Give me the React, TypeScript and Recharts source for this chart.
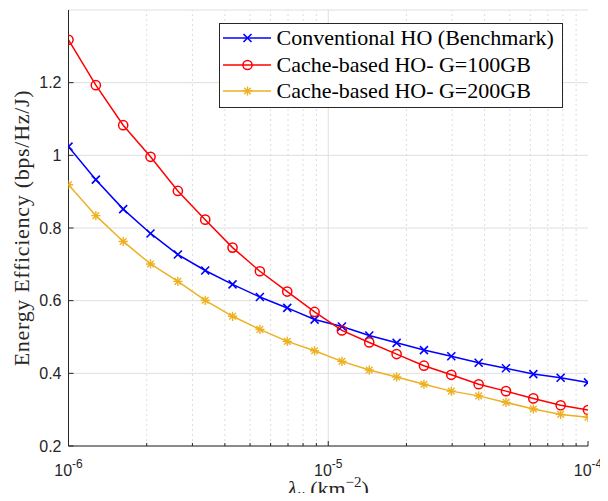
import React from 'react';
import { LineChart, Line, XAxis, YAxis, CartesianGrid, ReferenceLine, Legend } from 'recharts';

const lambdaValues = [1.0e-6, 1.2743e-6, 1.6238e-6, 2.0691e-6, 2.6367e-6, 3.3598e-6, 4.2813e-6, 5.4556e-6, 6.9519e-6, 8.8587e-6, 1.1288e-5, 1.4384e-5, 1.833e-5, 2.3357e-5, 2.9764e-5, 3.7927e-5, 4.8329e-5, 6.1585e-5, 7.8476e-5, 1.0e-4];
const conventional = [1.024, 0.933, 0.852, 0.785, 0.727, 0.683, 0.645, 0.610, 0.580, 0.548, 0.529, 0.504, 0.484, 0.464, 0.447, 0.429, 0.414, 0.398, 0.388, 0.375];
const cache100 = [1.318, 1.193, 1.083, 0.996, 0.902, 0.823, 0.746, 0.681, 0.625, 0.569, 0.518, 0.485, 0.453, 0.421, 0.396, 0.370, 0.351, 0.331, 0.312, 0.299];
const cache200 = [0.919, 0.834, 0.763, 0.701, 0.653, 0.601, 0.557, 0.521, 0.488, 0.462, 0.433, 0.409, 0.390, 0.370, 0.351, 0.338, 0.320, 0.302, 0.287, 0.279];

const seriesNames = ['Conventional HO (Benchmark)', 'Cache-based HO- G=100GB', 'Cache-based HO- G=200GB'];
const seriesKeys = ['conv', 'c100', 'c200'];
const seriesColors = ['#0000FF', '#FF0000', '#EDB120'];
const seriesMarkers = ['x', 'o', '*'];

const xMajorTicks = [1e-6, 1e-5, 1e-4];
const xMajorExp = ['-6', '-5', '-4'];
const xMinorTicks = [2e-6, 3e-6, 4e-6, 5e-6, 6e-6, 7e-6, 8e-6, 9e-6, 2e-5, 3e-5, 4e-5, 5e-5, 6e-5, 7e-5, 8e-5, 9e-5];
const xAllTicks = [...xMajorTicks, ...xMinorTicks].sort((a, b) => a - b);
const yTicks = [0.2, 0.4, 0.6, 0.8, 1.0, 1.2];
const yTickLabels = ['0.2', '0.4', '0.6', '0.8', '1', '1.2'];
const yDomain = [0.2, 1.4];
const xDomain = [1e-6, 1e-4];

const data = lambdaValues.map((x, i) => ({ x, conv: conventional[i], c100: cache100[i], c200: cache200[i] }));

const AXIS = '#262626';
const SERIF = '"Liberation Serif", "Times New Roman", serif';
const SANS = '"Liberation Sans", Arial, Helvetica, sans-serif';

function Marker({ type, cx, cy, color }: { type: string; cx: number; cy: number; color: string }) {
  const s = 4;
  if (type === 'o') return <circle cx={cx} cy={cy} r={4.6} fill="none" stroke={color} strokeWidth={1.5} />;
  if (type === 'x')
    return (
      <g stroke={color} strokeWidth={1.6}>
        <line x1={cx - s} y1={cy - s} x2={cx + s} y2={cy + s} />
        <line x1={cx - s} y1={cy + s} x2={cx + s} y2={cy - s} />
      </g>
    );
  const a = 4.6;
  const d = 3.3;
  return (
    <g stroke={color} strokeWidth={1.4}>
      <line x1={cx - a} y1={cy} x2={cx + a} y2={cy} />
      <line x1={cx} y1={cy - a} x2={cx} y2={cy + a} />
      <line x1={cx - d} y1={cy - d} x2={cx + d} y2={cy + d} />
      <line x1={cx - d} y1={cy + d} x2={cx + d} y2={cy - d} />
    </g>
  );
}

const isMajor = (v: number) => xMajorTicks.some((m) => Math.abs(m - v) / m < 1e-6);

function BottomTick(props: any) {
  const { x, y, payload } = props;
  const v = payload.value;
  const major = isMajor(v);
  const idx = xMajorTicks.findIndex((m) => Math.abs(m - v) / m < 1e-6);
  return (
    <g>
      <line x1={x} y1={y} x2={x} y2={y - (major ? 5 : 3)} stroke={AXIS} strokeWidth={1} />
      {major && (
        <text x={x} y={y + 30} textAnchor="middle" fontFamily={SANS} fontSize={16} fill={AXIS}>
          <tspan>10</tspan>
          <tspan fontSize={12} dy={-8}>{xMajorExp[idx]}</tspan>
        </text>
      )}
    </g>
  );
}

function TopTick(props: any) {
  const { x, y, payload } = props;
  const major = isMajor(payload.value);
  return <line x1={x} y1={y} x2={x} y2={y + (major ? 5 : 3)} stroke={AXIS} strokeWidth={1} />;
}

function LeftTick(props: any) {
  const { x, y, payload, index } = props;
  const i = yTicks.findIndex((t) => Math.abs(t - payload.value) < 1e-9);
  return (
    <g>
      <line x1={x} y1={y} x2={x + 5} y2={y} stroke={AXIS} strokeWidth={1} />
      <text x={x - 7} y={y} dy="0.36em" textAnchor="end" fontFamily={SANS} fontSize={16} fill={AXIS}>
        {yTickLabels[i >= 0 ? i : index]}
      </text>
    </g>
  );
}

function RightTick(props: any) {
  const { x, y } = props;
  return <line x1={x} y1={y} x2={x - 5} y2={y} stroke={AXIS} strokeWidth={1} />;
}

function LegendBox() {
  return (
    <div
      style={{
        border: `1px solid ${AXIS}`,
        background: '#fff',
        width: 342,
        height: 82,
        paddingTop: 1.5,
        boxSizing: 'content-box',
      }}
    >
      {seriesNames.map((name, i) => (
        <div key={name} style={{ height: 26.5, display: 'flex', alignItems: 'center' }}>
          <svg width={57} height={26} style={{ flex: 'none' }}>
            <line x1={3} y1={13} x2={51} y2={13} stroke={seriesColors[i]} strokeWidth={1.5} />
            <Marker type={seriesMarkers[i]} cx={27.5} cy={13} color={seriesColors[i]} />
          </svg>
          <span style={{ fontFamily: SERIF, fontSize: 22, color: '#000', whiteSpace: 'nowrap', lineHeight: '26px' }}>{name}</span>
        </div>
      ))}
    </div>
  );
}

export default function App() {
  return (
    <div style={{ width: 592, height: 485, overflow: 'visible' }}>
      <LineChart width={600} height={493} data={data} margin={{ top: 2, right: 20, left: 0, bottom: 0 }}>
        <CartesianGrid vertical={false} stroke="#dfdfdf" strokeWidth={1} yAxisId="left" />
        {xMinorTicks.map((t) => (
          <ReferenceLine key={t} x={t} yAxisId="left" stroke="#dcdcdc" strokeDasharray="2 3" strokeWidth={1} />
        ))}
        <ReferenceLine x={1e-5} yAxisId="left" stroke="#dfdfdf" strokeWidth={1} />
        <XAxis
          dataKey="x"
          type="number"
          scale="log"
          domain={xDomain}
          allowDataOverflow
          ticks={xAllTicks}
          interval={0}
          tickSize={0}
          tickMargin={0}
          tick={<BottomTick />}
          tickLine={false}
          axisLine={{ stroke: AXIS }}
          height={55}
          label={(p: any) => {
            const vb = p.viewBox || { x: 60.5, y: 438, width: 519.5, height: 55 };
            return (
              <text x={vb.x + vb.width / 2} y={487.5} textAnchor="middle" fontFamily={SERIF} fontSize={22} fill={AXIS}>
                <tspan fontStyle="italic">λ</tspan>
                <tspan fontStyle="italic" fontSize={15} dy={3}>u</tspan>
                <tspan dy={-3}>{'  (km'}</tspan>
                <tspan fontSize={15} dy={-9}>−2</tspan>
                <tspan dy={9}>)</tspan>
              </text>
            );
          }}
        />
        <XAxis
          xAxisId="top"
          orientation="top"
          dataKey="x"
          type="number"
          scale="log"
          domain={xDomain}
          allowDataOverflow
          ticks={xAllTicks}
          interval={0}
          tickSize={0}
          tickMargin={0}
          tick={<TopTick />}
          tickLine={false}
          axisLine={{ stroke: AXIS }}
          height={0}
        />
        <YAxis
          yAxisId="left"
          type="number"
          domain={yDomain}
          ticks={yTicks}
          interval={0}
          allowDataOverflow
          tickSize={0}
          tickMargin={0}
          tick={<LeftTick />}
          tickLine={false}
          axisLine={{ stroke: AXIS }}
          width={60.5}
          label={(p: any) => {
            const vb = p.viewBox || { x: 0, y: 2, width: 60.5, height: 436 };
            const cy = vb.y + vb.height / 2;
            return (
              <text x={21} y={cy} transform={`rotate(-90 21 ${cy})`} textAnchor="middle" fontFamily={SERIF} fontSize={22} letterSpacing={0.7} fill={AXIS}>
                Energy Efficiency (bps/Hz/J)
              </text>
            );
          }}
        />
        <YAxis
          yAxisId="right"
          orientation="right"
          type="number"
          domain={yDomain}
          ticks={yTicks}
          interval={0}
          allowDataOverflow
          tickSize={0}
          tickMargin={0}
          tick={<RightTick />}
          tickLine={false}
          axisLine={{ stroke: AXIS }}
          width={0}
        />
        {seriesKeys.map((k, i) => (
          <Line
            key={k}
            yAxisId="left"
            dataKey={k}
            name={seriesNames[i]}
            type="linear"
            stroke={seriesColors[i]}
            strokeWidth={1.5}
            isAnimationActive={false}
            dot={(p: any) => <Marker key={`${k}-${p.index}`} type={seriesMarkers[i]} cx={p.cx} cy={p.cy} color={seriesColors[i]} />}
            activeDot={false}
          />
        ))}
        <Legend
          layout="vertical"
          align="center"
          verticalAlign="middle"
          content={() => <LegendBox />}
          wrapperStyle={{ left: 210.5, top: 14.7, width: 344 }}
        />
      </LineChart>
    </div>
  );
}
